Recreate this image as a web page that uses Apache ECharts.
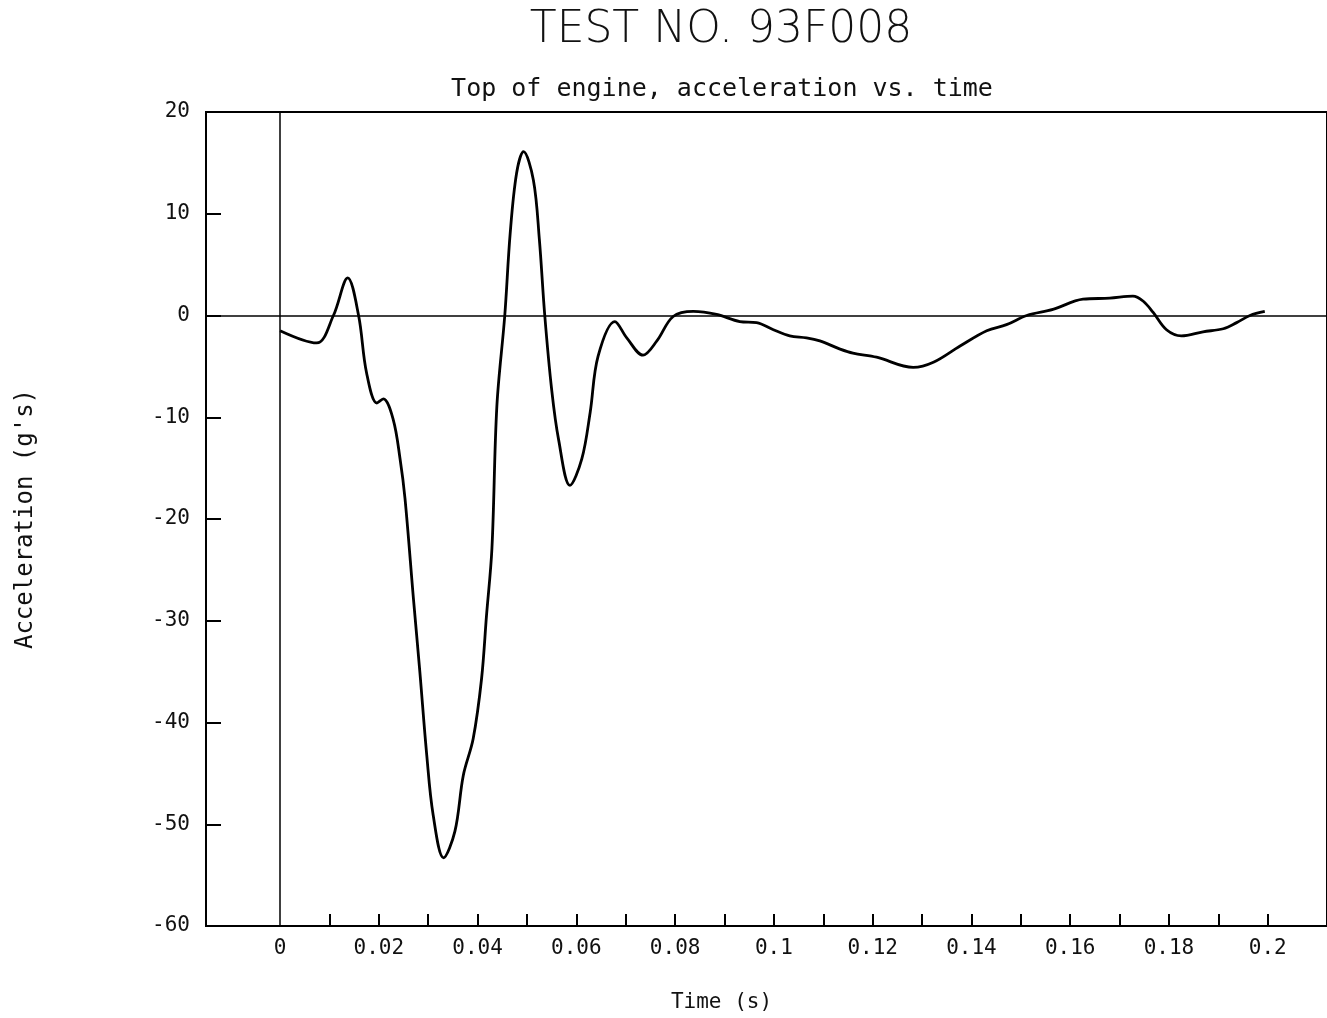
<!DOCTYPE html>
<html>
<head>
<meta charset="utf-8">
<script src="https://cdn.jsdelivr.net/npm/echarts@6/dist/echarts.min.js"></script>
<style>
  html, body { margin: 0; padding: 0; background: #fff; }
  #testChart { width: 1327px; height: 1018px; }
</style>
</head>
<body>
<div id="testChart"></div>
<script>
// time (s) and acceleration (g's)
const times = [
  0, 0.0074, 0.0108, 0.0137, 0.0159, 0.0175, 0.0196, 0.0209, 0.0229, 0.0243,
  0.0253, 0.027, 0.0283, 0.0297, 0.031, 0.0331, 0.0354, 0.0371, 0.0391, 0.0408,
  0.0418, 0.0429, 0.0439, 0.0455, 0.0466, 0.0479, 0.0493, 0.0513, 0.0525, 0.0536,
  0.055, 0.0564, 0.0587, 0.0611, 0.0628, 0.0644, 0.0678, 0.0702, 0.0735, 0.0763,
  0.0796, 0.0837, 0.0884, 0.0931, 0.0965, 0.0999, 0.1032, 0.1066, 0.1093, 0.1134,
  0.116, 0.1208, 0.1282, 0.1323, 0.1377, 0.1431, 0.1471, 0.1512, 0.1565, 0.1626,
  0.168, 0.1727, 0.1748, 0.1768, 0.1795, 0.1825, 0.1869, 0.191, 0.1937, 0.1964,
  0.1994
];
const accel = [
  -1.5, -2.7, 0, 3.7, 0, -5.6, -8.6, -8.2, -10.2, -14.1,
  -18.0, -27.8, -35.0, -43.2, -49.1, -53.3, -50.7, -45.2, -41.6, -35.7,
  -29.5, -22.9, -8.9, 0, 8.1, 14.0, 16.1, 13.3, 7.5, 0,
  -7.3, -12.2, -16.7, -14.1, -9.5, -4.0, -0.6, -2.2, -3.9, -2.5,
  -0.1, 0.4, 0.1, -0.6, -0.7, -1.4, -2.0, -2.2, -2.5, -3.3,
  -3.7, -4.1, -5.1, -4.6, -3.0, -1.5, -0.9, 0, 0.6, 1.6,
  1.7, 1.9, 1.4, 0.3, -1.4, -2.0, -1.6, -1.3, -0.7, 0,
  0.4
];
const xLabelValues = [0, 0.02, 0.04, 0.06, 0.08, 0.1, 0.12, 0.14, 0.16, 0.18, 0.2];
const xTickValues = [0.01, 0.02, 0.03, 0.04, 0.05, 0.06, 0.07, 0.08, 0.09, 0.1,
  0.11, 0.12, 0.13, 0.14, 0.15, 0.16, 0.17, 0.18, 0.19, 0.2];

const mono = 'DejaVu Sans Mono';
const chart = echarts.init(document.getElementById('testChart'));

chart.setOption({
  animation: false,
  backgroundColor: '#fff',
  title: [
    {
      text: 'TEST NO. 93F008',
      left: 716, textAlign: 'center', top: 4,
      textStyle: { fontFamily: 'DejaVu Sans', fontSize: 44, fontWeight: 'lighter', color: '#111' }
    },
    {
      text: 'Top of engine, acceleration vs. time',
      left: 717, textAlign: 'center', top: 72,
      textStyle: { fontFamily: mono, fontSize: 25, fontWeight: 'normal', color: '#111' }
    }
  ],
  grid: { left: 206, right: 0, top: 112, bottom: 82, show: true, borderColor: '#000', borderWidth: 2 },
  xAxis: {
    type: 'value',
    min: -0.015, max: 0.212,
    name: 'Time (s)', nameLocation: 'middle', nameGap: 66,
    nameTextStyle: { fontFamily: mono, fontSize: 21, color: '#111', padding: [0, 90, 0, 0] },
    axisLine: { show: true, onZero: false, lineStyle: { color: '#000', width: 2 } },
    axisTick: { show: true, inside: true, length: 12, customValues: xTickValues, lineStyle: { color: '#000', width: 2 } },
    axisLabel: {
      customValues: xLabelValues, margin: 12,
      fontFamily: mono, fontSize: 21, color: '#111',
      formatter: v => String(+v.toFixed(2))
    },
    splitLine: { show: false }
  },
  yAxis: {
    type: 'value',
    min: -60, max: 20, interval: 10,
    name: "Acceleration (g's)", nameLocation: 'middle', nameGap: 168, nameRotate: 90,
    nameTextStyle: { fontFamily: mono, fontSize: 24, color: '#111' },
    axisLine: { show: true, onZero: false, lineStyle: { color: '#000', width: 2 } },
    axisTick: { show: true, inside: true, length: 15, lineStyle: { color: '#000', width: 2 } },
    axisLabel: {
      margin: 16, fontFamily: mono, fontSize: 21, color: '#111'
    },
    splitLine: { show: false }
  },
  series: [
    {
      name: 'Acceleration',
      type: 'line',
      smooth: 0.35,
      showSymbol: false,
      data: times.map((t, i) => [t, accel[i]]),
      lineStyle: { color: '#000', width: 2.8 },
      markLine: {
        silent: true,
        symbol: 'none',
        label: { show: false },
        lineStyle: { color: '#000', width: 1.5, type: 'solid' },
        data: [{ xAxis: 0 }, { yAxis: 0 }]
      }
    }
  ]
});
</script>
</body>
</html>
